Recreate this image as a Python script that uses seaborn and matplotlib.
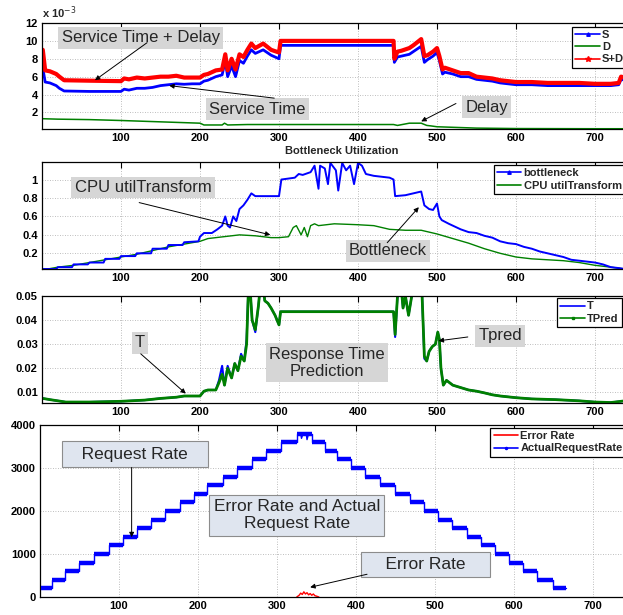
import numpy as np
import pandas as pd
import matplotlib
matplotlib.use('Agg')
import matplotlib.pyplot as plt
import seaborn as sns
from matplotlib.lines import Line2D

# ---------------- data ----------------
XTICKS = [100, 200, 300, 400, 500, 600, 700]

# Panel 1 (values in units of 1e-3)
x_s = [1, 4, 10, 18, 22, 28, 60, 100, 104, 110, 120, 130, 140, 150, 160, 170, 180, 190, 200, 205,
       210, 220, 228, 232, 235, 240, 245, 250, 255, 260, 265, 270, 280, 290, 300, 302, 445, 446, 450, 455,
       465, 470, 480, 484, 488, 495, 500, 503, 507, 510, 520, 530, 540, 550, 560, 570, 580, 590, 600, 620,
       640, 660, 680, 700, 720, 730, 733, 738]
s_vals = [7.0, 5.4, 5.3, 5.0, 4.7, 4.4, 4.35, 4.35, 4.6, 4.5, 4.7, 4.7, 4.8, 5.0, 5.1, 5.2, 5.15, 5.2, 5.2, 5.5,
          5.6, 6.0, 6.2, 7.8, 6.0, 7.2, 6.0, 7.8, 7.5, 8.3, 9.0, 8.6, 9.0, 8.4, 8.0, 9.5, 9.5, 7.6, 8.2, 8.3,
          8.5, 8.8, 9.4, 7.6, 7.9, 8.3, 8.7, 7.8, 6.3, 6.5, 6.3, 6.0, 6.0, 5.7, 5.6, 5.5, 5.3, 5.2, 5.1, 5.1,
          5.0, 5.0, 5.0, 5.0, 5.0, 5.1, 5.7, 5.6]
sd_vals = [9.0, 6.7, 6.6, 6.3, 6.0, 5.6, 5.55, 5.5, 5.8, 5.7, 5.9, 5.8, 5.9, 6.0, 6.0, 6.1, 5.9, 5.9, 5.9, 6.2,
           6.3, 6.7, 6.8, 8.5, 6.7, 8.0, 6.8, 8.5, 8.2, 9.0, 9.7, 9.2, 9.7, 9.0, 8.7, 10.0, 10.0, 8.0, 8.8, 8.9,
           9.2, 9.5, 10.2, 8.3, 8.4, 8.8, 9.2, 8.3, 6.8, 7.0, 6.7, 6.4, 6.4, 6.0, 5.9, 5.8, 5.6, 5.5, 5.4, 5.4,
           5.3, 5.3, 5.3, 5.2, 5.2, 5.3, 6.0, 5.9]
x_d = [1, 20, 60, 100, 150, 200, 205, 228, 231, 235, 260, 300, 445, 450, 465, 480, 487, 492, 500, 550,
       600, 700, 738]
d_vals = [1.3, 1.25, 1.2, 1.1, 0.95, 0.8, 0.6, 0.6, 0.8, 0.6, 0.65, 0.65, 0.65, 0.55, 0.8, 0.8, 0.55, 0.5, 0.4, 0.25,
          0.2, 0.18, 0.18]

# Panel 2
x_bn = [1, 18, 20, 38, 40, 58, 60, 78, 80, 98, 100, 118, 120, 138, 140, 158, 160, 178, 180, 198,
        200, 205, 215, 222, 228, 232, 235, 238, 242, 246, 250, 255, 260, 265, 270, 285, 300, 303, 320, 325,
        330, 340, 345, 350, 352, 358, 362, 365, 372, 375, 380, 385, 390, 395, 400, 405, 410, 420, 440, 445,
        447, 460, 470, 480, 484, 490, 495, 500, 503, 506, 515, 520, 530, 540, 550, 560, 570, 580, 590, 600,
        610, 620, 630, 640, 650, 660, 670, 680, 690, 700, 710, 720, 730, 738]
bn_vals = [0.03, 0.03, 0.05, 0.05, 0.08, 0.08, 0.1, 0.1, 0.14, 0.14, 0.17, 0.17, 0.2, 0.2, 0.25, 0.25, 0.29, 0.29, 0.32, 0.33,
           0.38, 0.42, 0.42, 0.46, 0.5, 0.6, 0.5, 0.48, 0.6, 0.55, 0.68, 0.72, 0.78, 0.85, 0.82, 0.82, 0.82, 1.0, 1.02, 1.06,
           1.05, 1.08, 1.15, 0.9, 1.15, 1.12, 0.95, 1.18, 1.1, 0.88, 1.18, 1.1, 1.15, 0.95, 1.18, 1.15, 1.06, 1.04, 1.02, 1.0,
           0.82, 0.83, 0.85, 0.87, 0.72, 0.68, 0.67, 0.74, 0.6, 0.56, 0.52, 0.5, 0.46, 0.43, 0.42, 0.39, 0.37, 0.33, 0.31, 0.3,
           0.27, 0.25, 0.22, 0.2, 0.18, 0.16, 0.13, 0.12, 0.11, 0.1, 0.08, 0.05, 0.04, 0.03]
x_cpu = [1, 20, 40, 60, 80, 100, 120, 140, 160, 180, 200, 210, 230, 250, 270, 290, 300, 312, 318, 322,
         328, 332, 336, 340, 345, 350, 370, 400, 420, 440, 460, 480, 500, 520, 540, 560, 580, 600, 620, 640,
         660, 680, 700, 720, 738]
cpu_vals = [0.02, 0.05, 0.07, 0.1, 0.13, 0.16, 0.19, 0.23, 0.27, 0.3, 0.33, 0.36, 0.38, 0.4, 0.39, 0.37, 0.37, 0.38, 0.48, 0.5,
            0.4, 0.48, 0.38, 0.5, 0.52, 0.5, 0.52, 0.51, 0.5, 0.46, 0.45, 0.45, 0.41, 0.36, 0.31, 0.25, 0.2, 0.16, 0.14, 0.13,
            0.12, 0.1, 0.07, 0.05, 0.03]

# Panel 3
x_t = [1, 10, 30, 60, 100, 130, 150, 170, 180, 200, 205, 210, 220, 224, 228, 231, 235, 240, 244, 248,
       252, 256, 259, 262, 266, 270, 274, 278, 282, 286, 290, 295, 300, 302, 445, 447, 450, 453, 457, 460,
       464, 468, 472, 476, 480, 484, 487, 490, 494, 498, 501, 503, 505, 508, 512, 516, 520, 530, 540, 550,
       560, 570, 580, 600, 620, 650, 680, 700, 720, 738]
tpred_vals = [0.0075, 0.007, 0.006, 0.006, 0.0063, 0.0068, 0.0075, 0.008, 0.0085, 0.0085, 0.0105, 0.011, 0.011, 0.014, 0.0175, 0.013, 0.02, 0.016, 0.022, 0.019,
              0.025, 0.023, 0.03, 0.06, 0.04, 0.036, 0.046, 0.06, 0.048, 0.047, 0.045, 0.042, 0.038, 0.0435, 0.0435, 0.034, 0.05, 0.06, 0.045, 0.05,
              0.042, 0.05, 0.06, 0.06, 0.06, 0.025, 0.023, 0.027, 0.029, 0.03, 0.035, 0.032, 0.02, 0.013, 0.015, 0.014, 0.013, 0.012, 0.011, 0.0105,
              0.0098, 0.009, 0.0085, 0.0078, 0.0073, 0.007, 0.0065, 0.006, 0.0058, 0.0065]
t_vals = [0.0075, 0.007, 0.006, 0.006, 0.0063, 0.0068, 0.0075, 0.008, 0.0085, 0.0085, 0.0105, 0.011, 0.011, 0.015, 0.021, 0.013, 0.021, 0.016, 0.022, 0.019,
          0.026, 0.023, 0.032, 0.06, 0.04, 0.035, 0.046, 0.06, 0.048, 0.047, 0.045, 0.042, 0.038, 0.0435, 0.0435, 0.033, 0.05, 0.06, 0.045, 0.05,
          0.042, 0.05, 0.06, 0.06, 0.06, 0.024, 0.023, 0.027, 0.029, 0.03, 0.035, 0.032, 0.02, 0.013, 0.015, 0.014, 0.013, 0.012, 0.011, 0.0105,
          0.0098, 0.009, 0.0085, 0.0078, 0.0073, 0.007, 0.0065, 0.006, 0.0058, 0.0065]

# Panel 4
req_start = [1, 15, 32, 50, 68, 87, 105, 123, 141, 158, 177, 195, 212, 232, 249, 268, 286, 305, 325,
             344, 361, 376, 394, 412, 430, 450, 468, 486, 504, 522, 540, 558, 576, 594, 611, 629, 649]
req_last_end = 666
req_levels = [200, 400, 600, 800, 1000, 1200, 1400, 1600, 1800, 2000, 2200, 2400, 2600, 2800, 3000, 3200, 3400, 3600, 3800,
              3600, 3400, 3200, 3000, 2800, 2600, 2400, 2200, 2000, 1800, 1600, 1400, 1200, 1000, 800, 600, 400, 200]
top_x = [326, 330, 331, 333, 337, 338, 340, 343]
top_vals = [3800, 3800, 3690, 3800, 3800, 3660, 3800, 3800]
x_err = [325, 328, 330, 332, 334, 336, 338, 340, 342, 344, 346, 348, 350, 353]
err_vals = [0, 40, 90, 60, 120, 70, 100, 50, 80, 40, 70, 30, 20, 0]

# ---------------- styling ----------------
sns.set_style('white')
plt.rcParams['font.family'] = ['Liberation Sans', 'DejaVu Sans']

W, H = 623, 615
fig = plt.figure(figsize=(W / 100, H / 100), dpi=100)
fig.patch.set_facecolor('white')

PX_PER_UNIT = 0.79
XMAX = 760

BLUE = '#0000ff'
RED = '#ff0000'
GREEN = '#008000'


def make_axes(left_px, top_px, bottom_px):
    width_px = XMAX * PX_PER_UNIT
    return fig.add_axes([left_px / W, 1 - bottom_px / H, width_px / W, (bottom_px - top_px) / H])


def style(ax, yticks, ylabels, ylim):
    ax.set_xlim(0, XMAX)
    ax.set_ylim(*ylim)
    ax.set_xticks(XTICKS)
    ax.set_xticklabels([str(v) for v in XTICKS], fontweight='bold', fontsize=8)
    ax.set_yticks(yticks)
    ax.set_yticklabels(ylabels, fontweight='bold', fontsize=8)
    ax.set_axisbelow(True)
    ax.grid(True, linestyle=(0, (1, 2)), color='#a8a8a8', linewidth=0.6)
    ax.tick_params(direction='in', length=4, width=0.8, top=True, right=True, pad=3, colors='black')
    for sp in ax.spines.values():
        sp.set_color('black')
        sp.set_linewidth(0.9)
    ax.set_xlabel('')
    ax.set_ylabel('')


def legend(ax, handles, anchor):
    leg = ax.legend(handles=handles, loc='upper left', bbox_to_anchor=anchor, frameon=True,
                    fancybox=False, edgecolor='black', framealpha=1,
                    prop={'weight': 'bold', 'size': 8}, handlelength=2.2, borderpad=0.3,
                    labelspacing=0.2, handletextpad=0.2, borderaxespad=0)
    leg.get_frame().set_linewidth(0.9)
    leg.set_zorder(10)


def box(ax, x, y, s, fc='#d6d6d6', ec='none', pad=0.2, size=12):
    ax.text(x, y, s, ha='center', va='center', fontsize=size, multialignment='center',
            bbox=dict(boxstyle=f'square,pad={pad}', fc=fc, ec=ec, lw=0.8), zorder=8)


def arrow(ax, tail, head):
    ax.annotate('', xy=head, xytext=tail,
                arrowprops=dict(arrowstyle='-|>', color='black', lw=0.7, mutation_scale=7,
                                shrinkA=0, shrinkB=0), zorder=8)


def line(ax, x, y, color, lw, **kw):
    df = pd.DataFrame({'x': x, 'y': y})
    sns.lineplot(data=df, x='x', y='y', ax=ax, color=color, linewidth=lw, estimator=None,
                 sort=False, legend=False, **kw)


# ---------------- Panel 1 ----------------
ax1 = make_axes(42, 23, 129)
line(ax1, x_d, np.array(d_vals) * 1e-3, GREEN, 1.1)
line(ax1, x_s, np.array(s_vals) * 1e-3, BLUE, 2.0)
line(ax1, x_s, np.array(sd_vals) * 1e-3, RED, 3.0)
style(ax1, [0.002, 0.004, 0.006, 0.008, 0.010, 0.012], ['2', '4', '6', '8', '10', '12'], (0.00015, 0.012))
ax1.set_xlabel('Bottleneck Utilization', fontweight='bold', fontsize=8, labelpad=2)
ax1.text(0.0, 1.015, r'x 10$^{-3}$', transform=ax1.transAxes, fontsize=8, fontweight='bold',
         ha='left', va='bottom')
legend(ax1, [Line2D([], [], color=BLUE, lw=1.2, marker='^', ms=2.5, label='S'),
             Line2D([], [], color=GREEN, lw=1.2, label='D'),
             Line2D([], [], color=RED, lw=1.2, marker='*', ms=4, label='S+D')], (0.883, 0.965))
box(ax1, 125, 0.01035, 'Service Time + Delay')
arrow(ax1, (133, 0.0098), (67, 0.0056))
box(ax1, 273, 0.00236, 'Service Time')
arrow(ax1, (294, 0.0036), (161, 0.0050))
box(ax1, 563, 0.0026, 'Delay')
arrow(ax1, (524, 0.0030), (480, 0.0010))

# ---------------- Panel 2 ----------------
ax2 = make_axes(42, 162, 269)
line(ax2, x_cpu, cpu_vals, GREEN, 1.0)
line(ax2, x_bn, bn_vals, BLUE, 1.4)
style(ax2, [0.2, 0.4, 0.6, 0.8, 1.0], ['0.2', '0.4', '0.6', '0.8', '1'], (0.03, 1.19))
legend(ax2, [Line2D([], [], color=BLUE, lw=1.2, marker='^', ms=2.5, label='bottleneck'),
             Line2D([], [], color=GREEN, lw=1.2, label='CPU utilTransform')], (0.752, 0.972))
box(ax2, 128, 0.913, 'CPU utilTransform')
arrow(ax2, (123, 0.75), (289, 0.40))
box(ax2, 438, 0.228, 'Bottleneck')
arrow(ax2, (437, 0.315), (477, 0.70))

# ---------------- Panel 3 ----------------
ax3 = make_axes(42, 296, 403)
line(ax3, x_t, t_vals, BLUE, 1.5)
line(ax3, x_t, tpred_vals, GREEN, 2.0)
style(ax3, [0.01, 0.02, 0.03, 0.04, 0.05], ['0.01', '0.02', '0.03', '0.04', '0.05'], (0.0056, 0.05))
legend(ax3, [Line2D([], [], color=BLUE, lw=1.2, label='T'),
             Line2D([], [], color=GREEN, lw=1.2, marker='s', ms=2, label='TPred')], (0.858, 0.98))
box(ax3, 124, 0.0306, 'T')
arrow(ax3, (125, 0.026), (182, 0.0095))
box(ax3, 361, 0.0223, 'Response Time\nPrediction')
box(ax3, 580, 0.0335, 'Tpred')
arrow(ax3, (539, 0.033), (502, 0.0314))

# ---------------- Panel 4 ----------------
ax4 = make_axes(40, 425, 597)
req_end = req_start[1:] + [req_last_end]
line(ax4, req_start + [req_last_end], req_levels + [req_levels[-1]], BLUE, 1.0, drawstyle='steps-post')
ax4.hlines(req_levels, req_start, req_end, colors=BLUE, linewidth=3.2, zorder=3)
line(ax4, top_x, top_vals, BLUE, 1.0)
line(ax4, x_err, err_vals, RED, 1.0)
style(ax4, [0, 1000, 2000, 3000, 4000], ['0', '1000', '2000', '3000', '4000'], (0, 4000))
legend(ax4, [Line2D([], [], color=RED, lw=1.2, label='Error Rate'),
             Line2D([], [], color=BLUE, lw=1.2, marker='.', ms=3, label='ActualRequestRate')], (0.75, 0.983))
PFC, PEC = '#dfe5ef', '#8c8c8c'
box(ax4, 120, 3325, '   Request Rate   ', fc=PFC, ec=PEC, pad=0.3, size=12.5)
arrow(ax4, (116, 3010), (116, 1390))
box(ax4, 325, 1904, 'Error Rate and Actual\nRequest Rate', fc=PFC, ec=PEC, pad=0.25, size=12.5)
box(ax4, 488, 762, '    Error Rate    ', fc=PFC, ec=PEC, pad=0.3, size=12.5)
arrow(ax4, (414, 529), (342, 226))

fig.savefig('out.png', dpi=100, facecolor='white')
